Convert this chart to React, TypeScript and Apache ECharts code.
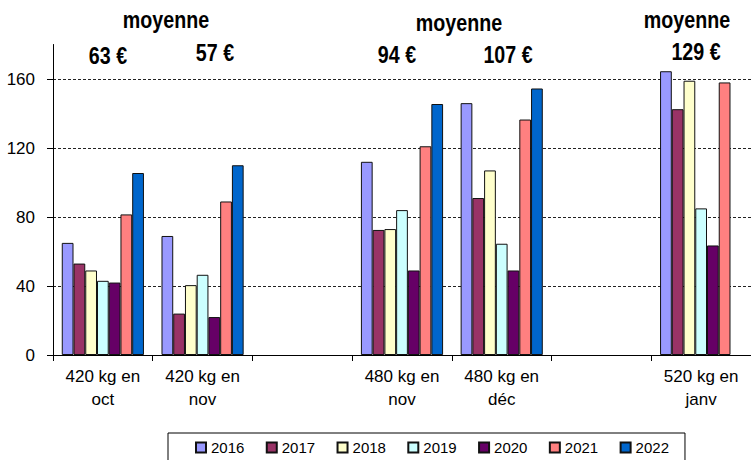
import React, { useEffect, useRef } from "react";
import * as echarts from "echarts";

const categories = [
  "420 kg en\noct",
  "420 kg en\nnov",
  "",
  "480 kg en\nnov",
  "480 kg en\ndéc",
  "",
  "520 kg en\njanv",
];
const years = ["2016", "2017", "2018", "2019", "2020", "2021", "2022"];
const s2016 = [65, 69, null, 112, 146, null, 164.5];
const s2017 = [53, 24, null, 72.5, 91, null, 142.5];
const s2018 = [49, 40.5, null, 73, 107, null, 159];
const s2019 = [43, 46.5, null, 84, 64.5, null, 85];
const s2020 = [42, 22, null, 49, 49, null, 63.5];
const s2021 = [81.5, 89, null, 121, 136.5, null, 158];
const s2022 = [105.5, 110, null, 145.5, 154.5, null, null];
const seriesValues = [s2016, s2017, s2018, s2019, s2020, s2021, s2022];
const colors = ["#9999FF", "#993366", "#FFFFCC", "#CCFFFF", "#660066", "#FF8080", "#0066CC"];
const yTicks = [0, 40, 80, 120, 160];

const annotations = [
  { text: "moyenne", x: 166, y: 20 },
  { text: "63 €", x: 108, y: 56 },
  { text: "57 €", x: 215, y: 53 },
  { text: "moyenne", x: 459, y: 23 },
  { text: "94 €", x: 397, y: 55 },
  { text: "107 €", x: 508, y: 55 },
  { text: "moyenne", x: 687, y: 20 },
  { text: "129 €", x: 696, y: 52 },
];

const FONT = "'Liberation Sans', Arial, sans-serif";

export default function App() {
  const ref = useRef<HTMLDivElement>(null);
  useEffect(() => {
    if (!ref.current) return;
    const chart = echarts.init(ref.current, undefined, { renderer: "svg" });
    chart.setOption({
      animation: false,
      backgroundColor: "#ffffff",
      textStyle: { fontFamily: FONT },
      grid: { left: 53, right: -4, top: 44.5, bottom: 105, containLabel: false },
      legend: {
        data: years,
        left: 168,
        top: 433,
        orient: "horizontal",
        padding: [7, 16, 30, 27],
        itemWidth: 10,
        itemHeight: 10,
        itemGap: 21.4,
        borderColor: "#000",
        borderWidth: 1,
        borderRadius: 0,
        icon: "rect",
        textStyle: { fontFamily: FONT, fontSize: 15, color: "#000" },
      },
      xAxis: {
        type: "category",
        data: categories,
        boundaryGap: true,
        axisLine: { lineStyle: { color: "#000", width: 1 } },
        axisTick: { show: true, length: 6, lineStyle: { color: "#000" }, interval: 0 },
        axisLabel: {
          interval: 0,
          color: "#000",
          fontFamily: FONT,
          fontSize: 17,
          lineHeight: 23,
          margin: 10,
        },
        splitLine: { show: false },
      },
      yAxis: {
        type: "value",
        min: 0,
        max: 180,
        interval: 40,
        axisLine: { show: true, lineStyle: { color: "#000", width: 1 } },
        axisTick: { show: true, length: 6, lineStyle: { color: "#000" }, customValues: yTicks },
        axisLabel: {
          color: "#000",
          fontFamily: FONT,
          fontSize: 17,
          margin: 18,
          customValues: yTicks,
        },
        splitLine: {
          show: true,
          showMinLine: false,
          lineStyle: { color: "#222", width: 1, type: [3, 2] },
        },
      },
      series: years.map((y, i) => ({
        name: y,
        type: "bar",
        data: seriesValues[i],
        barGap: "0%",
        barCategoryGap: "17.6%",
        itemStyle: { color: colors[i], borderColor: "#111", borderWidth: 1 },
      })),
      graphic: annotations.map((a) => ({
        type: "text",
        x: a.x,
        y: a.y,
        scaleX: 0.82,
        style: {
          text: a.text,
          fontFamily: FONT,
          fontSize: 24,
          fontWeight: "bold",
          fill: "#000",
          textAlign: "center",
          textVerticalAlign: "middle",
        },
      })),
    });
    return () => chart.dispose();
  }, []);
  return (
    <div
      ref={ref}
      style={{ position: "fixed", left: 0, top: 0, width: 751, height: 460 }}
    />
  );
}
